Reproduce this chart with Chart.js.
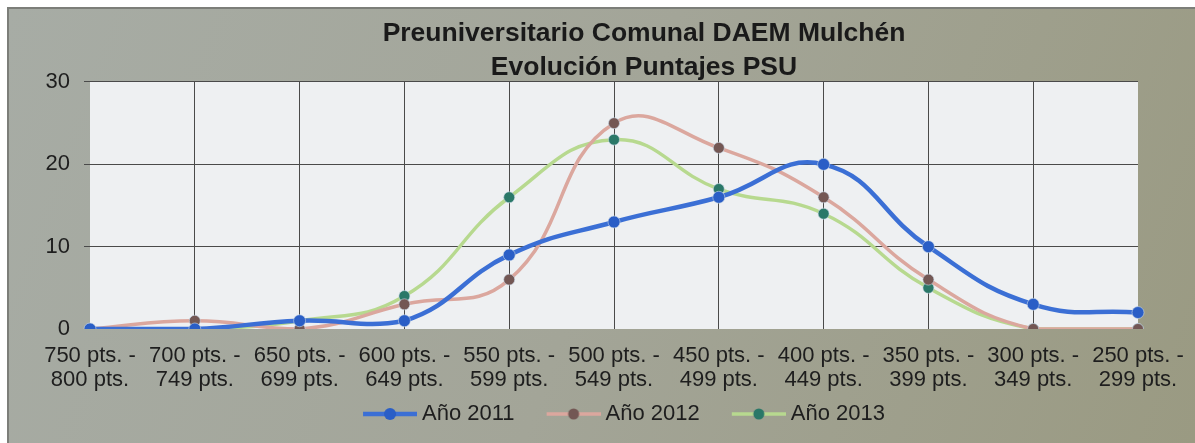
<!DOCTYPE html>
<html>
<head>
<meta charset="utf-8">
<script src="https://cdn.jsdelivr.net/npm/chart.js@4.4.1/dist/chart.umd.min.js"></script>
<style>
  html, body { margin: 0; padding: 0; background: #ffffff; }
  #wrap { position: relative; width: 1195px; height: 443px; }
</style>
</head>
<body>
<div id="wrap"><canvas id="c" width="1195" height="443"></canvas></div>
<script>
const categories = [
  ['750 pts. -', '800 pts.'],
  ['700 pts. -', '749 pts.'],
  ['650 pts. -', '699 pts.'],
  ['600 pts. -', '649 pts.'],
  ['550 pts. -', '599 pts.'],
  ['500 pts. -', '549 pts.'],
  ['450 pts. -', '499 pts.'],
  ['400 pts. -', '449 pts.'],
  ['350 pts. -', '399 pts.'],
  ['300 pts. -', '349 pts.'],
  ['250 pts. -', '299 pts.']
];
const seriesNames = ['Año 2011', 'Año 2012', 'Año 2013'];
const values2011 = [0, 0, 1, 1, 9, 13, 16, 20, 10, 3, 2];
const values2012 = [0, 1, 0, 3, 6, 25, 22, 16, 6, 0, 0];
const values2013 = [0, 0, 1, 4, 16, 23, 17, 14, 5, 0, 0];
const yTicks = [0, 10, 20, 30];
const titleLines = ['Preuniversitario Comunal DAEM Mulchén', 'Evolución Puntajes PSU'];

const FONT = "'Liberation Sans', Arial, sans-serif";

const styles = [
  { line: '#3b6fd5', point: '#2a5ec6', width: 4.5, radius: 6 },
  { line: '#dba79e', point: '#735754', width: 3.5, radius: 5.5 },
  { line: '#b7d98f', point: '#2a7868', width: 3.5, radius: 5.5 }
];

// legend marker: 82px wide image, transparent first 28px, then a 54px line with a dot
function legendImage(s) {
  const cv = document.createElement('canvas');
  cv.width = 82; cv.height = 14;
  const x = cv.getContext('2d');
  x.strokeStyle = s.line; x.lineWidth = s.width;
  x.beginPath(); x.moveTo(28, 7); x.lineTo(82, 7); x.stroke();
  x.fillStyle = s.point;
  x.beginPath(); x.arc(55, 7, s.radius, 0, Math.PI * 2); x.fill();
  return cv;
}
const legendImgs = styles.map(legendImage);

const bgPlugin = {
  id: 'bg',
  beforeDraw(chart) {
    const ctx = chart.ctx, W = chart.width, H = chart.height;
    ctx.save();
    ctx.fillStyle = '#ffffff';
    ctx.fillRect(0, 0, W, H);
    const g = ctx.createLinearGradient(8, 8, W, H);
    g.addColorStop(0, '#a7aca5');
    g.addColorStop(0.5, '#a3a598');
    g.addColorStop(1, '#9a9a82');
    ctx.fillStyle = g;
    ctx.fillRect(8, 8, W - 8, H - 8);
    ctx.strokeStyle = '#7c7e79';
    ctx.lineWidth = 2;
    ctx.beginPath(); ctx.moveTo(8, H); ctx.lineTo(8, 8); ctx.lineTo(W, 8); ctx.stroke();
    const a = chart.chartArea;
    ctx.fillStyle = '#eef0f2';
    ctx.fillRect(a.left, a.top, a.right - a.left, a.bottom - a.top);
    ctx.restore();
  },
  afterLayout(chart) {
    const shiftT = 644 - (chart.titleBlock.left + chart.titleBlock.right) / 2;
    chart.titleBlock.left += shiftT; chart.titleBlock.right += shiftT;
    const shiftL = 34;
    chart.legend.left += shiftL; chart.legend.right += shiftL;
  }
};

const datasets = [values2011, values2012, values2013].map((vals, i) => ({
  label: seriesNames[i],
  data: vals,
  borderColor: styles[i].line,
  backgroundColor: styles[i].point,
  borderWidth: styles[i].width,
  pointRadius: styles[i].radius,
  pointBackgroundColor: styles[i].point,
  pointBorderColor: 'rgba(200,215,230,0.6)',
  pointBorderWidth: 1,
  tension: 0.45,
  fill: false
}));

new Chart(document.getElementById('c'), {
  type: 'line',
  data: { labels: categories, datasets },
  plugins: [bgPlugin],
  options: {
    responsive: false,
    animation: false,
    layout: { padding: { left: 20, right: 57, top: 7, bottom: 8 } },
    plugins: {
      title: {
        display: true,
        text: titleLines,
        color: '#1a1a1a',
        font: { family: FONT, size: 26.5, weight: 'bold', lineHeight: 1.283 },
        padding: { top: 10, bottom: -3 }
      },
      legend: {
        display: true,
        position: 'bottom',
        labels: {
          color: '#1e1e1e',
          font: { family: FONT, size: 22 },
          usePointStyle: true,
          pointStyleWidth: 70,
          padding: 10,
          generateLabels(chart) {
            const items = Chart.defaults.plugins.legend.labels.generateLabels(chart);
            items.forEach((it, i) => { it.pointStyle = legendImgs[i]; });
            return items;
          }
        }
      },
      tooltip: { enabled: false }
    },
    scales: {
      x: {
        offset: false,
        grid: {
          drawTicks: false,
          color: (c) => (c.index === 0 || c.index === categories.length - 1) ? 'rgba(0,0,0,0)' : '#4a4a4a',
          lineWidth: 1
        },
        border: { display: false },
        ticks: {
          color: '#1e1e1e',
          font: { family: FONT, size: 22, lineHeight: 1.1 },
          autoSkip: false,
          maxRotation: 0,
          padding: 15
        },
        afterFit(scale) { scale.height = 64; scale.paddingRight = 0; scale.paddingLeft = 0; }
      },
      y: {
        min: 0,
        max: 30,
        afterBuildTicks(scale) { scale.ticks = yTicks.map(v => ({ value: v })); },
        grid: {
          color: (c) => c.tick && c.tick.value === 0 ? 'rgba(0,0,0,0)' : '#4a4a4a',
          lineWidth: 1,
          tickLength: 6
        },
        border: { display: false },
        ticks: {
          color: '#1e1e1e',
          font: { family: FONT, size: 22 },
          padding: 14
        },
        afterFit(scale) { scale.width = 70; }
      }
    }
  }
});
</script>
</body>
</html>
